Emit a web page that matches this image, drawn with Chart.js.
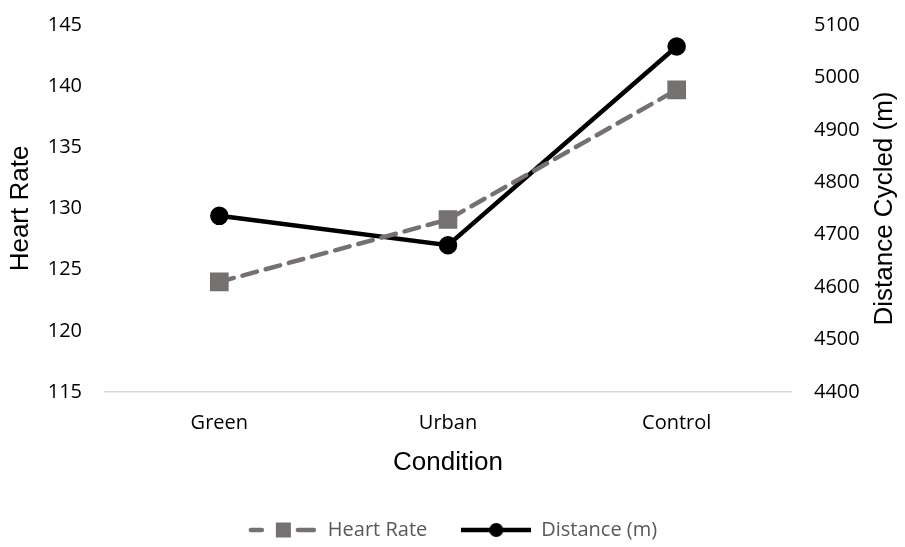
<!DOCTYPE html>
<html>
<head>
<meta charset="utf-8">
<script src="https://cdn.jsdelivr.net/npm/chart.js@4"></script>
<style>
html,body{margin:0;padding:0;background:#fff;}
#wrap{width:905px;height:547px;}
</style>
</head>
<body>
<div id="wrap"><canvas id="c" width="905" height="547"></canvas></div>
<script>
const conditions = ["Green","Urban","Control"];
const heartRate = [124.0,129.1,139.7];
const distance = [4736,4680,5059];
const hrTicks = [115,145,5];
const distTicks = [4400,5100,100];
const yTitles = ["Heart Rate","Distance Cycled (m)"];

const GREY="#767171";
const tickFont={family:"'Open Sans', sans-serif",size:20};
const titleFont="26px 'Liberation Sans', Arial, sans-serif";

// legend sample: line + marker on a small canvas
function sample(color,dashed,marker){
  const cv=document.createElement("canvas");
  cv.width=70;cv.height=16;
  const g=cv.getContext("2d");
  g.strokeStyle=color;g.fillStyle=color;g.lineWidth=4.5;
  if(dashed){
    g.lineCap="round";
    g.beginPath();g.moveTo(3,8);g.lineTo(14,8);g.moveTo(50,8);g.lineTo(66,8);g.stroke();
  }else{
    g.beginPath();g.moveTo(0,8);g.lineTo(70,8);g.stroke();
  }
  if(marker=="rect") g.fillRect(28,0.5,15,15);
  else{g.beginPath();g.arc(35,8,7,0,Math.PI*2);g.fill();}
  return cv;
}

// rotated y axis titles
const axisTitles={
  id:"axisTitles",
  afterDraw(chart){
    const ctx=chart.ctx,a=chart.chartArea,my=(a.top+a.bottom)/2;
    ctx.save();
    ctx.font=titleFont;ctx.fillStyle="#000";ctx.textAlign="center";ctx.textBaseline="middle";
    ctx.translate(21,my);ctx.rotate(-Math.PI/2);ctx.fillText(yTitles[0],0,0);
    ctx.restore();
    ctx.save();
    ctx.font=titleFont;ctx.fillStyle="#000";ctx.textAlign="center";ctx.textBaseline="middle";
    ctx.translate(885,my);ctx.rotate(-Math.PI/2);ctx.fillText(yTitles[1],0,0);
    ctx.restore();
  }
};

// legend without the bottom padding
const legendFit={
  id:"legendFit",
  beforeInit(chart){
    const fit=chart.legend.fit;
    chart.legend.fit=function(){fit.call(this);this.height=61;};
  }
};

// fixed y axis width, no extra top/bottom padding
function yFit(w){
  return s=>{s.width=w;s.paddingTop=0;s.paddingBottom=0;};
}

new Chart(document.getElementById("c"),{
  type:"line",
  data:{
    labels:conditions,
    datasets:[
      {label:"Heart Rate",data:heartRate,yAxisID:"y",borderColor:GREY,backgroundColor:GREY,
       borderWidth:4.5,borderDash:[15,9],borderCapStyle:"round",pointStyle:"rect",pointRadius:10,pointHoverRadius:10,
       legendSample:sample(GREY,true,"rect")},
      {label:"Distance (m)",data:distance,yAxisID:"y1",borderColor:"#000",backgroundColor:"#000",
       borderWidth:4.5,pointStyle:"circle",pointRadius:7,pointHoverRadius:7,
       legendSample:sample("#000",false,"circle")}
    ]
  },
  plugins:[axisTitles,legendFit],
  options:{
    responsive:false,animation:false,
    layout:{padding:{left:0,right:0,top:25,bottom:0}},
    plugins:{
      tooltip:{enabled:false},
      legend:{position:"bottom",
        labels:{usePointStyle:true,pointStyleWidth:70,boxHeight:16,padding:34,color:"#595959",
          font:{family:"'Open Sans', sans-serif",size:20},
          generateLabels(chart){
            return chart.data.datasets.map((d,i)=>({text:d.label,pointStyle:d.legendSample,
              fillStyle:d.borderColor,strokeStyle:d.borderColor,lineWidth:0,datasetIndex:i,fontColor:"#595959"}));
          }}}
    },
    scales:{
      x:{offset:true,grid:{display:false,drawTicks:false},border:{display:true,color:"#d9d9d9",width:1.5},
        ticks:{color:"#000",font:tickFont,padding:19},
        title:{display:true,text:"Condition",color:"#000",font:{family:"'Liberation Sans', Arial, sans-serif",size:26},padding:{top:0,bottom:8}},
        afterFit(s){s.height=94;}},
      y:{position:"left",min:hrTicks[0],max:hrTicks[1],grid:{display:false,drawTicks:false},border:{display:false},
        ticks:{stepSize:hrTicks[2],color:"#000",font:tickFont,padding:23,callback:v=>String(v)},
        afterFit:yFit(105)},
      y1:{position:"right",min:distTicks[0],max:distTicks[1],grid:{display:false,drawTicks:false},border:{display:false},
        ticks:{stepSize:distTicks[2],color:"#000",font:tickFont,padding:23,callback:v=>String(v)},
        afterFit:yFit(114)}
    }
  }
});
</script>
</body>
</html>
